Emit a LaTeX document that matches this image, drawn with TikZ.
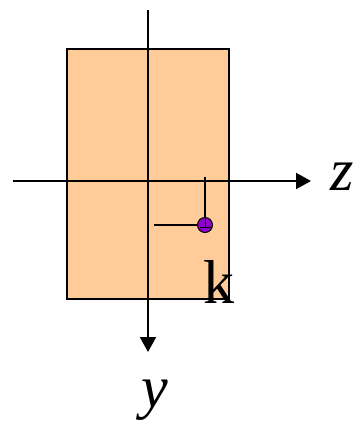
\documentclass[tikz,border=0pt]{standalone}
\usepackage{fontspec}
\setmainfont{Liberation Serif}
\usetikzlibrary{arrows.meta}
\definecolor{PlateOrange}{HTML}{FFCC99}
\definecolor{PointPurple}{HTML}{9000C8}

\begin{document}
\begin{tikzpicture}[x=1pt, y=-1pt, >={Triangle[length=15pt, width=16pt]}]
  \useasboundingbox (0,0) rectangle (357,423);
  % Cross-section
  \filldraw[fill=PlateOrange, line width=1.4pt] (67,49) rectangle (229,299);
  % Axes
  \coordinate (zstart) at (13,181);
  \coordinate (zend) at (311,181);
  \coordinate (ystart) at (148,10);
  \coordinate (yend) at (148,352);
  \draw[->, line width=2pt] (zstart) -- (zend);
  \draw[->, line width=2pt] (ystart) -- (yend);
  \node[anchor=base, inner sep=0pt, font=\fontsize{60}{60}\selectfont\itshape] (zlab) at (342,190) {z};
  \node[anchor=base, inner sep=0pt, font=\fontsize{60}{60}\selectfont\itshape] (ylab) at (155,407) {y};
  % Point k
  \node[circle, draw, fill=PointPurple, minimum size=15pt, inner sep=0pt, line width=1pt] (pt) at (205,225) {};
  \draw[line width=0.9pt] (pt.north) -- ++(0,9.5);
  \draw[line width=0.9pt] ([xshift=-5.5pt, yshift=-2pt]pt.center) -- ([xshift=5.5pt, yshift=-2pt]pt.center);
  \coordinate (zfoot) at (205,177);
  \coordinate (yfoot) at (154,225);
  \draw[line width=1.5pt] (zfoot) -- (pt.north);
  \draw[line width=1.5pt] (yfoot) -- (pt.west);
  \node[anchor=base, inner sep=0pt, font=\fontsize{62}{62}\selectfont] (klab) at (219,303) {k};
\end{tikzpicture}
\end{document}
